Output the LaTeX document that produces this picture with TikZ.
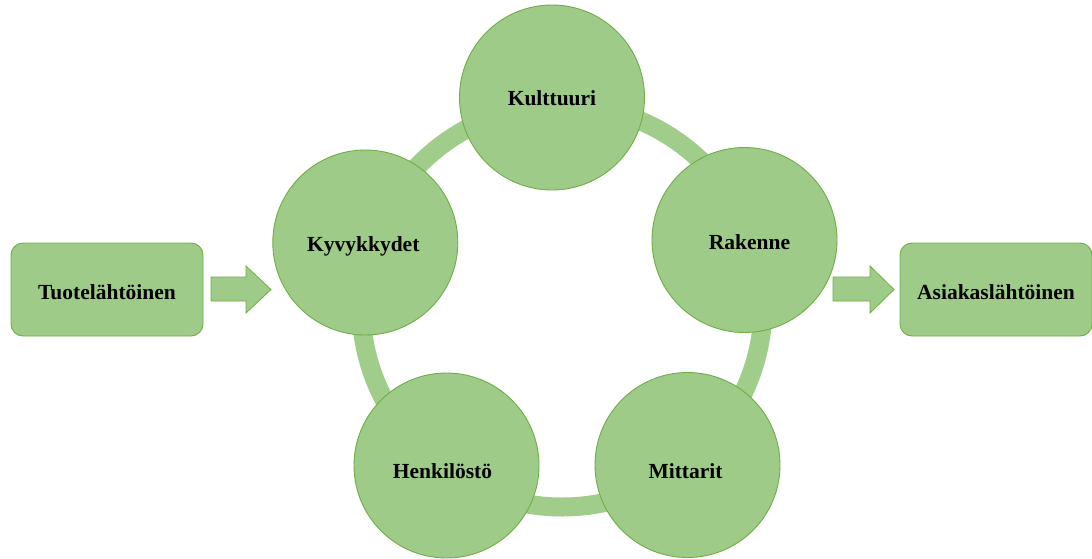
\documentclass[tikz,border=0pt]{standalone}
\usepackage{fontspec}
\setmainfont{Liberation Serif}
\definecolor{gfill}{RGB}{158,203,135}
\definecolor{gline}{RGB}{112,173,71}
\definecolor{gring}{RGB}{160,205,138}
\begin{document}
\begin{tikzpicture}[x=1pt,y=-1pt,
  bubble/.style={circle,fill=gfill,draw=gline,line width=0.9pt,minimum size=185pt,inner sep=0pt},
  endbox/.style={rectangle,rounded corners=12pt,fill=gfill,draw=gline,line width=0.9pt,
    minimum width=192pt,minimum height=93pt,inner sep=0pt},
  lbl/.style={inner sep=0pt,font=\fontsize{21.5}{25}\selectfont\bfseries},
  blockarrow/.style={fill=gfill,draw=gline,line width=0.8pt,line join=miter}]
\useasboundingbox (0,0) rectangle (1092,558);
% ring
\draw[gring,line width=19pt] (562,306) circle[radius=201pt];
% circles
\node[bubble] (kult) at (552,97.5) {};
\node[bubble] (rak) at (744.5,240) {};
\node[bubble] (mit) at (687.5,465) {};
\node[bubble] (hen) at (446.5,465.5) {};
\node[bubble] (kyv) at (365.3,242.5) {};
\node[lbl] (kultt) at ([yshift=-0.5pt]kult.center) {Kulttuuri};
\node[lbl] (rakt) at ([xshift=5pt,yshift=-2pt]rak.center) {Rakenne};
\node[lbl] (mitt) at ([xshift=-2pt,yshift=-6pt]mit.center) {Mittarit};
\node[lbl] (hent) at ([xshift=-4pt,yshift=-6pt]hen.center) {Henkilöstö};
\node[lbl] (kyvt) at ([xshift=-2pt,yshift=-4pt]kyv.center) {Kyvykkydet};
% end boxes
\node[endbox] (tuote) at (107,289.5) {};
\node[endbox] (asiakas) at (996,289.5) {};
\node[lbl] (tuotet) at ([yshift=-3pt]tuote.center) {Tuotelähtöinen};
\node[lbl] (asiakast) at ([yshift=-3pt]asiakas.center) {Asiakaslähtöinen};
% block arrows
\draw[blockarrow] (211,277) -- (246,277) -- (246,266) -- (271,289.5) -- (246,313) -- (246,301) -- (211,301) -- cycle;
\draw[blockarrow] (833,277) -- (870,277) -- (870,266) -- (894,289.5) -- (870,313) -- (870,301) -- (833,301) -- cycle;
\end{tikzpicture}
\end{document}
